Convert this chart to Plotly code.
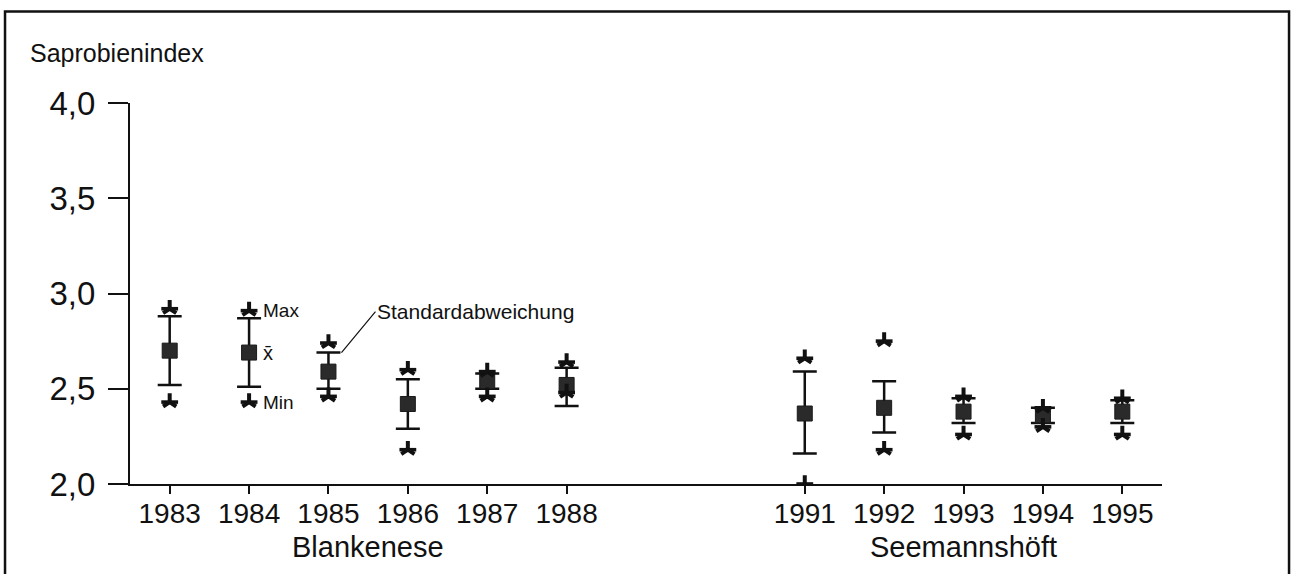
import numpy as np
import plotly.graph_objects as go

# Saprobienindex der Elbe an zwei Messstellen
years = [1983, 1984, 1985, 1986, 1987, 1988, 1991, 1992, 1993, 1994, 1995]
mean_vals = [2.70, 2.69, 2.59, 2.42, 2.54, 2.52, 2.37, 2.40, 2.38, 2.36, 2.38]
sd_upper = [2.88, 2.87, 2.69, 2.55, 2.58, 2.61, 2.59, 2.54, 2.45, 2.40, 2.44]
sd_lower = [2.52, 2.51, 2.50, 2.29, 2.50, 2.41, 2.16, 2.27, 2.32, 2.32, 2.32]
max_vals = [2.92, 2.91, 2.74, 2.60, 2.59, 2.64, 2.66, 2.75, 2.46, 2.40, 2.45]
min_vals = [2.43, 2.43, 2.46, 2.18, 2.46, 2.48, 2.00, 2.18, 2.26, 2.30, 2.26]

y_ticks = [2.0, 2.5, 3.0, 3.5, 4.0]
y_tick_text = ["2,0", "2,5", "3,0", "3,5", "4,0"]
stations = ["Blankenese", "Seemannshöft"]
station_centers = [1985.5, 1993.0]

FONT = "Liberation Sans, Arial, Helvetica, sans-serif"
INK = "#111111"

mean_arr = np.array(mean_vals)
err_plus = np.array(sd_upper) - mean_arr
err_minus = mean_arr - np.array(sd_lower)

fig = go.Figure()

# mean with standard deviation bars
fig.add_trace(go.Scatter(
    x=years, y=mean_vals, mode="markers",
    marker=dict(symbol="square", size=15, color="#2a2a2a",
                line=dict(color="#1a1a1a", width=1)),
    error_y=dict(type="data", symmetric=False, array=err_plus,
                 arrayminus=err_minus, color=INK, thickness=2.5, width=12),
    hoverinfo="skip", showlegend=False,
))

# max / min drawn as five-armed asterisks (Y plus horizontal bar)
for vals in (max_vals, min_vals):
    fig.add_trace(go.Scatter(
        x=years, y=vals, mode="markers",
        marker=dict(symbol="y-up-open", size=11, color=INK,
                    line=dict(color=INK, width=4)),
        hoverinfo="skip", showlegend=False,
    ))
    fig.add_trace(go.Scatter(
        x=years, y=vals, mode="markers",
        marker=dict(symbol="line-ew-open", size=12, color=INK,
                    line=dict(color=INK, width=3.6)),
        hoverinfo="skip", showlegend=False,
    ))

annotations = [
    dict(text="Saprobienindex", xref="paper", yref="paper",
         x=-0.099, y=1.131, xanchor="left", yanchor="middle",
         showarrow=False, font=dict(size=25, color=INK, family=FONT)),
    dict(text="Max", x=years[1], y=max_vals[1], xanchor="left",
         yanchor="middle", xshift=12, showarrow=False,
         font=dict(size=19, color=INK, family=FONT)),
    dict(text="Min", x=years[1], y=min_vals[1], xanchor="left",
         yanchor="middle", xshift=12, showarrow=False,
         font=dict(size=19, color=INK, family=FONT)),
    dict(text="x\u0304", x=years[1], y=mean_vals[1], xanchor="left",
         yanchor="middle", xshift=12, showarrow=False,
         font=dict(size=20, color=INK, family=FONT)),
    dict(text="Standardabweichung", x=years[2], y=sd_upper[2],
         xshift=13, xanchor="left", yanchor="middle",
         showarrow=True, arrowhead=0, arrowwidth=1.2, arrowcolor=INK,
         ax=34, ay=-41, standoff=0,
         font=dict(size=21, color=INK, family=FONT)),
]
for name, cx in zip(stations, station_centers):
    annotations.append(dict(
        text=name, x=cx, xref="x", yref="paper", y=-0.165,
        xanchor="center", yanchor="middle", showarrow=False,
        font=dict(size=29, color=INK, family=FONT)))

fig.update_layout(
    width=1292, height=574,
    margin=dict(l=130, r=130, t=103, b=90),
    paper_bgcolor="white", plot_bgcolor="white",
    font=dict(family=FONT, color=INK),
    annotations=annotations,
    shapes=[dict(type="rect", xref="paper", yref="paper",
                 x0=-0.1211, x1=1.1231, y0=-0.35, y1=1.2402,
                 line=dict(color=INK, width=2.5), layer="above")],
)

fig.update_xaxes(
    range=[1982.5, 1995.5], tickvals=years,
    ticktext=[str(y) for y in years],
    showgrid=False, zeroline=False, showline=True,
    linecolor=INK, linewidth=2,
    ticks="outside", ticklen=8, tickwidth=2, tickcolor=INK,
    tickfont=dict(size=28, color=INK, family=FONT),
    ticklabelstandoff=-5,
)
fig.update_yaxes(
    range=[2.0, 4.0], tickvals=y_ticks, ticktext=y_tick_text,
    showgrid=False, zeroline=False, showline=True,
    linecolor=INK, linewidth=2,
    ticks="outside", ticklen=20, tickwidth=2, tickcolor=INK,
    tickfont=dict(size=33, color=INK, family=FONT),
    ticklabelstandoff=6,
)

fig.write_html("out.html")
